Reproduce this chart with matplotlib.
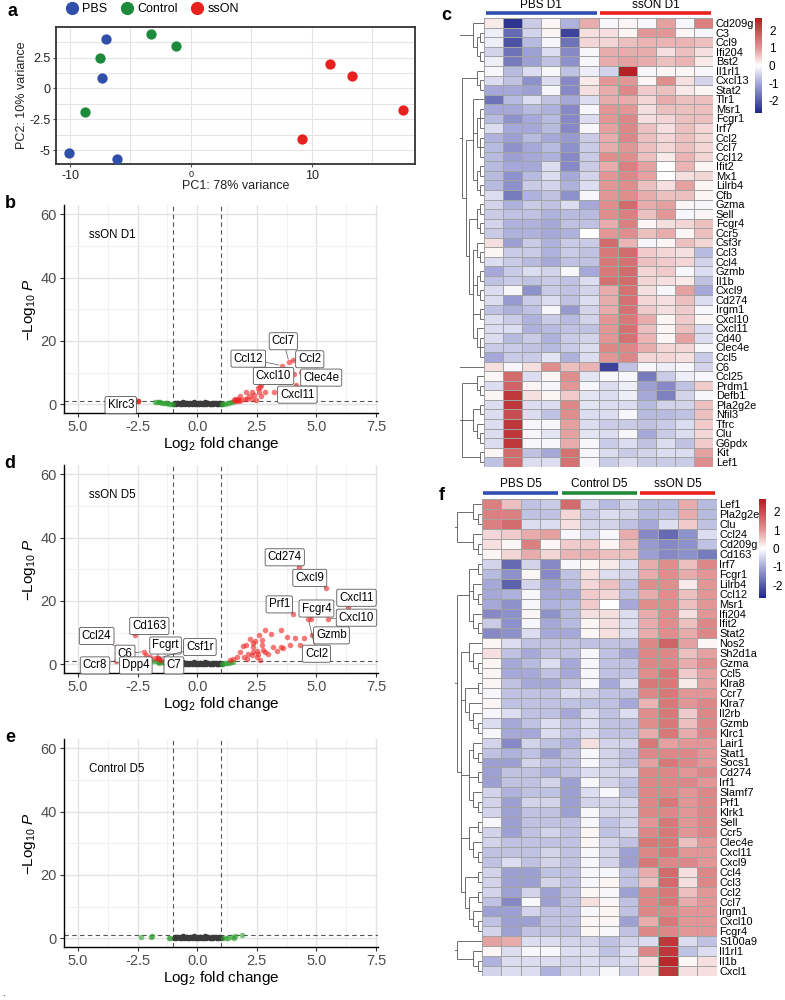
import numpy as np
import matplotlib
matplotlib.use('Agg')
import matplotlib.pyplot as plt
from matplotlib.colors import LinearSegmentedColormap
from matplotlib.lines import Line2D
import matplotlib.transforms as mtransforms

plt.rcParams['font.family'] = ['Liberation Sans', 'DejaVu Sans']
plt.rcParams['mathtext.fontset'] = 'custom'
plt.rcParams['mathtext.rm'] = 'Liberation Sans'
plt.rcParams['mathtext.it'] = 'Liberation Sans:italic'

# ---------------- DATA ----------------
# PCA (panel a)
pbs_pc1 = [-7.06, -7.34, -10.07, -6.15]
pbs_pc2 = [4.0, 0.84, -5.22, -5.73]
ctrl_pc1 = [-3.26, -1.24, -7.56, -8.77]
ctrl_pc2 = [4.43, 3.46, 2.51, -1.92]
sson_pc1 = [11.53, 13.3, 17.57, 9.16]
sson_pc2 = [1.95, 1.05, -1.73, -4.14]

# non-significant band (shared look in b, d, e)
ns_x = [-0.98, -0.93, -0.88, -0.84, -0.79, -0.73, -0.69, -0.64, -0.58, -0.53, -0.49, -0.44, -0.38, -0.33,
        -0.29, -0.24, -0.18, -0.13, -0.08, -0.03, 0.02, 0.07, 0.12, 0.17, 0.22, 0.27, 0.31, 0.36, 0.42,
        0.47, 0.52, 0.57, 0.61, 0.66, 0.72, 0.77, 0.81, 0.86, 0.91, 0.96, 0.99]
ns_y = [0.2, 0.4, 0.1, 0.5, 0.3, 0.0, 0.4, 0.2, 0.6, 0.1, 0.3, 0.5, 0.0, 0.2, 0.4, 0.1, 0.3, 0.6, 0.0,
        0.2, 0.5, 0.1, 0.3, 0.4, 0.0, 0.2, 0.6, 0.1, 0.3, 0.5, 0.2, 0.0, 0.4, 0.1, 0.3, 0.5, 0.2, 0.0,
        0.4, 0.3, 0.1]

# panel b: ssON D1
b_fc_x = [-2.47, -1.77, -1.7, -1.62, -1.55, -1.48, -1.4, -1.33, -1.25, -1.18, -1.1, -1.03,
          1.03, 1.1, 1.18, 1.25, 1.32, 1.4, 1.48]
b_fc_y = [1.05, 0.8, 0.7, 0.6, 0.55, 0.45, 0.4, 0.3, 0.25, 0.15, 0.1, 0.05,
          0.05, 0.1, 0.2, 0.3, 0.4, 0.6, 0.8]
b_sig_x = [-2.47, 2.56, 2.67, 2.62, 2.03, 2.3, 2.39, 2.58, 2.84, 2.67, 3.21, 2.16, 2.3, 2.07, 1.79,
           1.69, 1.58, 1.55, 1.65, 1.75, 1.85, 2.0, 2.45, 1.62]
b_sig_y = [1.05, 5.2, 6.0, 5.5, 3.9, 3.9, 3.05, 3.9, 3.9, 2.5, 3.9, 2.5, 1.7, 1.7, 2.5,
           1.7, 1.5, 1.2, 1.3, 1.1, 1.3, 1.5, 1.2, 1.0]
b_lab = ['Ccl7', 'Ccl2', 'Ccl12', 'Cxcl10', 'Clec4e', 'Cxcl11', 'Klrc3']
b_lab_x = [3.85, 4.03, 3.54, 4.07, 4.35, 4.14, -2.47]
b_lab_y = [13.4, 13.9, 12.2, 9.5, 10.1, 6.2, 1.05]

# panel d: ssON D5
d_fc_x = [-1.85, -1.75, -1.65, -1.6, -1.55, -1.45, -1.4, -1.35, -1.25, -1.15, -1.05,
          1.03, 1.1, 1.18, 1.25, 1.32, 1.4, 1.48]
d_fc_y = [1.0, 0.9, 0.8, 0.5, 0.7, 0.55, 0.3, 0.45, 0.3, 0.2, 0.1,
          0.05, 0.15, 0.25, 0.35, 0.5, 0.65, 0.8]
d_sig_x = [2.86, 2.6, 3.11, 3.53, 3.77, 3.5, 3.6, 3.18, 3.35, 3.88, 2.23, 2.32, 2.7, 2.7, 1.93, 2.04,
           1.79, 2.35, 2.49, 2.84, 2.97, 2.35, 2.14, 1.97, 1.68, 1.51, 1.37, 2.49, 2.63, 2.07, 2.28,
           2.56, 2.77, 2.42, 4.1, 4.3, 4.47, -2.15, -1.65, -1.5]
d_sig_y = [10.7, 9.3, 9.6, 10.7, 8.6, 5.4, 5.2, 5.4, 4.1, 6.1, 7.8, 6.7, 7.5, 5.9, 5.6, 5.9,
           4.0, 5.4, 4.3, 3.8, 3.1, 3.8, 3.1, 2.2, 2.2, 1.7, 1.4, 2.2, 1.4, 1.7, 2.8,
           3.1, 4.6, 7.2, 8.3, 6.1, 8.3, 2.75, 1.9, 1.3]
d_lab = ['Cd274', 'Cxcl9', 'Cxcl11', 'Cxcl10', 'Prf1', 'Fcgr4', 'Gzmb', 'Ccl2',
         'Cd163', 'Ccl24', 'C6', 'Fcgrt', 'Csf1r', 'Ccr8', 'Dpp4', 'C7']
d_lab_x = [4.26, 5.39, 6.33, 5.49, 4.02, 4.77, 4.80, 4.66,
           -2.61, -3.38, -2.23, -1.77, -1.65, -3.4, -1.98, -1.6]
d_lab_y = [30.8, 24.2, 18.0, 14.4, 16.0, 14.4, 9.3, 14.4,
           9.1, 5.4, 4.0, 1.8, 1.9, 1.1, 2.2, 1.5]

# panel e: Control D5
e_fc_x = [-2.36, -1.92, -1.88, -1.19, -1.15, 1.09, 1.2, 1.3, 1.44, 1.55, 1.6, 1.89]
e_fc_y = [0.4, 0.4, 0.6, 0.1, 0.0, 0.0, 0.1, 0.2, 0.4, 0.2, 0.6, 0.9]

# heatmap c (PBS D1 x6, ssON D1 x6)
c_genes = ['Cd209g', 'C3', 'Ccl9', 'Ifi204', 'Bst2', 'Il1rl1', 'Cxcl13', 'Stat2', 'Tlr1', 'Msr1', 'Fcgr1',
           'Irf7', 'Ccl2', 'Ccl7', 'Ccl12', 'Ifit2', 'Mx1', 'Lilrb4', 'Cfb', 'Gzma', 'Sell', 'Fcgr4', 'Ccr5',
           'Csf3r', 'Ccl3', 'Ccl4', 'Gzmb', 'Il1b', 'Cxcl9', 'Cd274', 'Irgm1', 'Cxcl10', 'Cxcl11', 'Cd40',
           'Clec4e', 'Ccl5', 'C6', 'Ccl25', 'Prdm1', 'Defb1', 'Pla2g2e', 'Nfil3', 'Tfrc', 'Clu', 'G6pdx',
           'Kit', 'Lef1']
c_values = [
    [0.2, -2.5, -0.6, 0.1, -0.9, 0.8, -0.1, 0.1, -0.1, 0.9, -0.1, 1.3],
    [-0.2, -1.8, -0.5, 0.1, -2.3, 0.3, 0.3, 0.1, 1.0, 1.0, 0.1, -0.1],
    [-0.2, -2.1, -0.8, -0.1, -1.7, 0.4, 0.4, 0.6, 0.7, 0.7, 0.7, 0.6],
    [-0.5, -1.7, -1.1, -0.4, -1.4, -0.1, 0.8, 0.8, 0.8, 0.3, 0.6, 0.3],
    [-0.2, -1.6, -1.1, -0.7, -1.3, -0.1, 0.8, 0.9, 0.8, 0.6, 0.7, 0.2],
    [-0.1, -0.8, -0.4, -0.1, -0.7, -0.2, -0.5, 2.6, -0.1, 0.1, 0.1, -0.1],
    [-0.4, -0.7, -1.3, -0.4, -1.4, 0.2, 1.0, 1.0, 0.1, 1.1, 0.3, -0.5],
    [-1.0, -1.0, -1.1, -0.1, -1.4, 0.3, 0.8, 1.2, 0.5, 0.6, 0.2, 0.1],
    [-1.7, -0.8, -0.4, -0.7, -1.0, -0.4, 0.8, 0.8, 0.4, 0.8, 0.6, 0.6],
    [-1.0, -1.0, -0.8, -0.9, -1.4, -0.1, 1.0, 1.0, 0.3, 0.6, 0.6, 0.6],
    [-0.8, -1.3, -1.0, -0.8, -1.4, -0.4, 1.0, 1.2, 0.3, 0.4, 0.6, 0.6],
    [-0.4, -1.0, -1.0, -0.8, -1.4, -0.1, 0.9, 1.2, 0.6, 0.3, 0.6, 0.4],
    [-0.9, -1.1, -0.8, -1.0, -1.2, -0.6, 0.8, 1.2, 0.6, 0.4, 0.6, 0.4],
    [-0.8, -1.3, -1.0, -0.8, -1.3, -0.6, 0.8, 1.0, 0.6, 0.4, 0.6, 0.4],
    [-0.8, -1.1, -1.0, -0.9, -1.4, -0.6, 1.1, 1.1, 0.6, 0.2, 0.7, 0.4],
    [-0.8, -1.0, -1.0, -0.4, -1.4, -0.6, 0.8, 1.3, 0.9, 0.0, 0.7, 0.1],
    [-0.8, -1.3, -0.8, -0.4, -1.0, -0.5, 1.0, 1.2, 0.9, 0.0, 0.3, 0.4],
    [-0.8, -1.3, -0.6, -0.5, -0.9, -0.4, 1.0, 1.1, 0.6, 0.3, 0.9, 0.1],
    [-0.4, -1.6, -0.9, -0.7, -1.3, -0.1, 1.0, 1.1, 0.8, 0.6, 0.6, 0.1],
    [-0.5, -0.9, -0.6, -0.7, -0.4, -1.0, 1.1, 1.6, 0.8, 0.9, 0.1, -0.1],
    [-0.6, -0.7, -0.7, -0.9, -0.8, -0.8, 1.1, 1.3, 0.6, 1.0, -0.1, 0.1],
    [-0.5, -0.9, -0.9, -1.0, -0.7, -0.7, 0.8, 1.3, 0.1, 0.3, 0.4, 0.6],
    [-0.6, -0.9, -0.9, -1.0, -0.9, 0.0, 1.0, 1.1, 0.6, 0.8, 0.1, 0.6],
    [0.3, -1.1, -0.6, -0.9, -0.6, -0.6, 1.6, 0.7, -0.1, 0.1, 0.6, 0.4],
    [0.1, -0.6, -0.6, -0.9, -0.6, -0.7, 1.4, 1.6, 0.5, 0.4, 0.3, -0.8],
    [-0.4, -0.6, -0.8, -1.0, -0.7, -0.7, 1.4, 1.5, 0.6, 0.5, 0.4, -0.5],
    [-1.0, -0.6, -0.4, -0.5, -0.1, -1.0, 1.4, 1.6, 0.4, 0.5, -0.1, -0.4],
    [-0.7, -0.6, -0.7, -0.6, -0.7, -0.4, 1.5, 1.6, 0.4, 0.3, 0.2, -0.7],
    [-0.4, -0.1, -1.3, -0.6, -0.7, -0.5, 0.8, 1.5, 0.3, -0.1, 0.9, -1.0],
    [-0.4, -1.2, -0.6, -0.4, -0.7, -0.4, 0.8, 1.5, 0.4, 0.3, 0.6, -0.4],
    [-0.7, -0.9, -0.7, -0.1, -1.2, -0.5, 0.8, 1.5, 0.5, 0.3, 0.5, -0.1],
    [-0.4, -0.6, -0.9, -0.6, -0.8, -0.5, 1.0, 1.4, 0.8, 0.1, 0.5, 0.1],
    [-0.4, -0.4, -0.9, -0.8, -0.7, -0.7, 1.0, 1.5, 0.6, 0.1, 0.6, -0.4],
    [-0.4, -0.8, -0.6, -0.9, -0.6, -0.5, 1.0, 1.5, 0.7, 0.1, 0.9, -0.4],
    [-0.6, -0.6, -0.7, -0.8, -0.6, -0.4, 1.2, 1.2, 0.8, 0.4, 0.4, -0.1],
    [-1.0, -0.6, -0.6, -0.3, -0.9, -0.4, 1.0, 1.2, 0.4, 0.4, 0.3, -0.6],
    [0.3, -0.1, 0.3, 1.1, 0.6, 0.7, -2.3, -0.7, -0.1, -0.2, -0.1, -0.5],
    [0.1, 1.6, -0.4, 0.1, 1.1, -0.3, -0.1, -0.1, -1.6, -0.6, -0.2, -0.1],
    [-0.4, 1.7, 0.1, -0.1, 1.0, -0.1, -0.4, -0.2, -1.1, -1.4, -0.7, 0.5],
    [0.1, 2.3, 0.3, 0.1, 0.5, -0.3, -0.4, -0.2, -1.0, -1.5, -0.5, -0.1],
    [-0.4, 2.3, -0.4, -0.4, 1.2, -0.3, -0.4, -0.4, -0.8, -0.5, -0.5, 0.6],
    [-0.4, 2.0, -0.4, -0.7, 1.1, -0.4, -0.4, -0.1, -0.8, -0.8, -0.7, 0.6],
    [-0.4, 2.3, -0.1, -0.1, 0.9, -0.4, -0.6, -0.6, -0.7, -0.6, -0.4, 0.5],
    [-0.4, 2.3, -0.1, -0.3, 0.9, -0.3, -0.4, -0.1, -1.0, -0.6, -0.4, 0.4],
    [-0.4, 2.3, -0.1, -0.1, 0.8, -0.1, -0.6, -0.4, -0.7, -0.4, -0.7, 0.5],
    [0.1, 1.6, -0.7, -1.0, 1.5, -0.1, -0.4, -0.6, -0.5, -0.4, -0.4, 0.9],
    [-0.7, 1.6, -0.4, -0.4, 1.5, -0.1, -0.6, -0.4, -0.6, -0.6, -0.6, 1.1],
]
c_groups = ['PBS D1', 'ssON D1']
c_group_n = [6, 6]

# heatmap f (PBS D5 x4, Control D5 x4, ssON D5 x4)
f_genes = ['Lef1', 'Pla2g2e', 'Clu', 'Ccl24', 'Cd209g', 'Cd163', 'Irf7', 'Fcgr1', 'Lilrb4', 'Ccl12', 'Msr1',
           'Ifi204', 'Ifit2', 'Stat2', 'Nos2', 'Sh2d1a', 'Gzma', 'Ccl5', 'Klra8', 'Ccr7', 'Klra7', 'Il2rb',
           'Gzmb', 'Klrc1', 'Lair1', 'Stat1', 'Socs1', 'Cd274', 'Irf1', 'Slamf7', 'Prf1', 'Klrk1', 'Sell',
           'Ccr5', 'Clec4e', 'Cxcl11', 'Cxcl9', 'Ccl4', 'Ccl3', 'Ccl2', 'Ccl7', 'Irgm1', 'Cxcl10', 'Fcgr4',
           'S100a9', 'Il1rl1', 'Il1b', 'Cxcl1']
f_values = [
    [1.3, 0.6, -0.7, -0.6, 1.6, -0.5, -0.8, -0.5, -0.8, -0.8, 0.8, -0.8],
    [1.3, 1.3, -0.7, -0.7, 0.4, -0.6, -0.4, -0.5, -0.8, -0.7, 0.8, -0.8],
    [1.3, 1.6, -0.4, -0.4, 0.3, -0.5, -0.5, -0.7, -1.0, -0.4, 0.5, -0.7],
    [0.4, 0.5, 0.8, 0.9, -0.1, -0.4, -0.1, 0.8, -1.4, -1.8, -1.3, -0.4],
    [0.3, 0.1, 1.3, 0.1, 0.5, 0.5, 0.1, 0.6, -1.2, -1.4, -1.3, -0.7],
    [0.1, 0.4, 0.8, 0.4, 0.7, 0.7, 0.6, 0.6, -1.1, -1.4, -1.3, -1.6],
    [-0.5, -1.8, -0.5, -1.4, -0.1, 0.1, 0.2, -0.4, 0.8, 1.1, 0.6, 1.2],
    [-0.8, -1.3, 0.1, -1.4, -0.7, 0.3, -0.4, -0.5, 0.8, 1.1, 0.8, 1.0],
    [-1.0, -1.9, -0.5, -1.1, -0.8, 0.4, 0.6, -0.7, 1.1, 1.1, 0.2, 1.0],
    [-1.0, -0.9, -0.1, -1.0, -1.0, 0.5, 0.4, -0.7, 0.8, 1.1, 0.6, 1.0],
    [-1.0, -1.3, -0.1, -0.9, -0.8, 0.5, 0.0, -1.0, 1.1, 1.1, 0.6, 1.0],
    [-1.4, -1.3, 0.1, -1.3, -0.8, 0.3, 0.3, -0.4, 0.8, 1.1, 0.3, 1.0],
    [-0.6, -1.3, -0.1, -1.0, -0.8, 0.1, 0.3, -0.4, 0.8, 1.1, 0.6, 1.2],
    [-1.4, -1.3, -0.4, -1.0, -1.0, 0.1, 0.3, -0.4, 0.8, 1.1, 0.8, 1.2],
    [0.1, -0.4, -0.7, -0.7, -0.7, -0.7, -0.7, -0.7, 1.2, 1.7, 0.9, 0.1],
    [0.3, -0.7, -1.0, -0.7, -0.7, -0.1, -0.7, -1.0, 1.2, 1.2, 0.6, 0.9],
    [0.1, -1.0, -0.8, -0.4, -1.0, -0.1, -0.7, -0.7, 1.2, 1.2, 0.8, 1.1],
    [0.1, -1.0, -1.0, -0.7, -1.0, -0.1, -0.7, -0.7, 1.1, 1.4, 0.5, 0.9],
    [0.1, -0.7, -1.0, -1.0, -0.7, -0.1, -1.0, -0.4, 1.4, 1.4, 0.2, 0.9],
    [-0.1, -0.7, -0.7, -0.7, -0.4, -0.5, -0.7, -0.7, 1.2, 1.4, 1.0, 1.0],
    [0.1, -0.7, -0.7, -0.7, -0.7, -0.7, -0.7, -1.0, 0.7, 1.4, 1.0, 1.2],
    [-0.1, -0.4, -0.7, -0.7, -1.0, -0.4, -0.7, -0.4, 1.1, 1.4, 0.5, 1.2],
    [-0.4, -1.0, -0.7, -0.4, -0.7, -0.4, -0.7, -0.7, 1.1, 1.4, 0.6, 1.2],
    [-0.1, -1.0, -1.0, -0.4, -0.7, -0.4, -0.7, -0.7, 0.8, 1.4, 0.8, 1.2],
    [-0.5, -1.4, -0.5, -0.7, -0.9, 0.3, -0.5, -0.5, 1.4, 0.9, 1.0, 1.0],
    [-0.7, -0.9, -0.7, -1.1, -0.7, -0.1, -0.5, -0.7, 1.2, 1.2, 1.2, 1.0],
    [-1.1, -1.1, -0.5, -0.7, -0.7, -0.1, -0.5, -0.7, 0.9, 1.4, 1.2, 1.0],
    [-1.1, -0.7, -0.7, -0.9, -0.7, -0.4, -0.5, -0.5, 1.2, 1.2, 1.0, 1.2],
    [-1.1, -0.7, -0.7, -0.5, -1.1, -0.1, -0.5, -0.7, 1.2, 1.2, 1.2, 1.0],
    [-0.5, -0.9, -0.7, -0.7, -1.1, -0.4, -0.1, -0.7, 1.2, 1.2, 1.0, 1.2],
    [-0.5, -1.1, -0.5, -0.5, -1.1, -0.5, -0.5, -0.5, 1.2, 1.4, 1.0, 1.2],
    [-0.5, -1.1, -0.7, -0.7, -1.1, -0.1, -0.5, -0.5, 1.2, 1.2, 1.0, 1.2],
    [-0.1, -1.1, -0.7, -0.7, -0.7, -0.1, -0.7, -0.5, 1.0, 1.4, 1.0, 1.2],
    [-0.5, -1.1, -0.7, -0.5, -0.7, 0.1, -0.7, -0.5, 1.2, 1.4, 1.0, 1.2],
    [-0.5, -0.7, -0.7, -0.7, -0.7, 0.1, -0.5, -0.7, 1.4, 1.4, 0.6, 1.0],
    [-0.7, -0.7, -0.7, -0.5, -0.7, -0.1, -0.5, -1.1, 1.2, 1.4, 1.0, 1.0],
    [-0.7, -0.4, -0.7, -0.5, -0.7, -0.1, -0.5, -1.1, 1.4, 1.2, 1.2, 1.0],
    [-0.5, -1.1, -1.1, -0.7, -0.7, -0.1, -0.1, -0.7, 0.8, 1.6, 0.3, 1.2],
    [-0.5, -1.1, -1.1, -0.5, -0.7, -0.1, 0.1, -0.7, 0.6, 1.6, 0.3, 1.2],
    [-0.5, -1.1, -0.5, -1.1, -0.7, 0.1, -0.1, -1.1, 1.2, 1.4, 0.6, 1.0],
    [-0.7, -1.4, -0.1, -1.1, -0.7, 0.3, 0.1, -0.7, 1.2, 1.4, 0.8, 1.0],
    [-1.1, -1.1, -0.5, -0.7, -0.7, -0.1, 0.1, -0.7, 1.2, 1.2, 1.0, 1.0],
    [-0.7, -1.1, -1.1, -0.7, -0.7, 0.1, 0.1, -1.1, 0.8, 1.4, 1.0, 1.0],
    [-0.5, -1.1, -0.7, -0.7, -0.7, 0.1, -0.1, -0.7, 1.2, 1.2, 1.0, 1.0],
    [0.9, 0.8, -0.4, -0.4, -0.5, -0.5, -0.7, -0.5, -0.4, 2.3, -0.4, -0.7],
    [0.1, -0.4, -0.1, -0.1, -0.4, -0.4, -0.7, -0.4, 1.2, 2.3, -0.7, -0.4],
    [-0.9, -0.4, -0.4, -0.4, -0.5, -0.4, -0.5, -0.4, 0.3, 2.5, 0.1, 0.3],
    [-0.5, -0.4, -0.4, -0.9, -0.5, -0.4, -0.1, -0.5, 0.3, 2.3, 0.3, 0.3],
]
f_groups = ['PBS D5', 'Control D5', 'ssON D5']
f_group_n = [4, 4, 4]

# row dendrogram structures (row indices)
c_tree = [[[0, [[1, 2], [3, 4]]],
           [[5, [6, 7]],
            [[8, [[9, 10, 11], [12, 13, 14]], [[15, 16], [17, 18]]],
             [[[19, 20], [21, 22]],
              [[23, [24, 25]], [[26, 27], [28, 29]], [30, 31], [32, [33, 34, 35]]]]]]],
          36,
          [[37, [38, 39]], [[40, 41], [42, [43, 44]]], [45, 46]]]
f_tree = [[[0, [1, 2]], [3, [4, 5]]],
          [[[6, 7], [8, [9, 10]], [11, [12, 13]]],
           [[14, [15, [16, 17]]], [[18, 19], [20, [21, [22, 23]]]],
            [[24, [25, 26]], [27, 28], [29, [30, 31]]], [[32, 33], [34, [35, 36]]],
            [[37, 38], [[39, 40], [41, [42, 43]]]]]],
          [44, [45, [46, 47]]]]

# ---------------- LAYOUT / STYLE ----------------
W, H = 785, 1000
fig = plt.figure(figsize=(W / 100, H / 100), dpi=100)


def rect(l, t, r, b):
    return [l / W, 1 - b / H, (r - l) / W, (b - t) / H]


def ftext(x, y, s, **kw):
    fig.text(x / W, 1 - y / H, s, **kw)


BLUE, GREEN, RED = '#2f4fa8', '#1e8a3c', '#e8211f'
TICKC = '#4d4d4d'

# ----- panel a -----
ax = fig.add_axes(rect(56, 27, 415, 164))
ax.scatter(pbs_pc1, pbs_pc2, s=55, color=BLUE, zorder=3, linewidths=0)
ax.scatter(ctrl_pc1, ctrl_pc2, s=55, color=GREEN, zorder=3, linewidths=0)
ax.scatter(sson_pc1, sson_pc2, s=55, color=RED, zorder=3, linewidths=0)
ax.set_xlim(-11.16, 18.55)
ax.set_ylim(-6.13, 4.99)
ax.set_xticks([-10, 0, 10])
ax.set_xticks([-5, 5, 15], minor=True)
ax.set_yticks([-5, -2.5, 0, 2.5])
ax.set_yticks([-3.75, -1.25, 1.25, 3.75], minor=True)
ax.set_yticklabels(['-5', '-2.5', '0', '2.5'])
ax.set_xticklabels(['-10', '0', '10'])
for lab in ax.get_xticklabels():
    lab.set_fontsize(9 if lab.get_text() != '0' else 6.5)
ax.tick_params(axis='both', which='both', length=2, color='#555555', labelcolor='#222222', pad=2)
ax.tick_params(axis='y', labelsize=9)
ax.tick_params(which='minor', length=0)
ax.grid(which='both', color='#e4e4e4', lw=0.8)
ax.set_axisbelow(True)
for s in ax.spines.values():
    s.set_color('#333333')
    s.set_linewidth(1.3)
ax.set_xlabel('PC1: 78% variance', fontsize=9, labelpad=-1, color='#222222')
ax.set_ylabel('PC2: 10% variance', fontsize=9, labelpad=1, color='#222222')
handles = [Line2D([], [], marker='o', ls='', color=c, markersize=8.5) for c in (BLUE, GREEN, RED)]
fig.legend(handles, ['PBS', 'Control', 'ssON'], loc='center', bbox_to_anchor=(151 / W, 1 - 9 / H),
           ncol=3, frameon=False, fontsize=9, handletextpad=0.1, columnspacing=0.9,
           handlelength=1.4)

# ----- volcano panels -----
XLIM = (-5.59, 7.57)
YLIM = (-2.8, 63.0)
BOX = dict(boxstyle='round,pad=0.22,rounding_size=0.15', fc='white', ec='#555555', lw=0.6)

b_boxes = {'Ccl7': (3.61, 19.9), 'Ccl2': (4.72, 14.2), 'Ccl12': (2.14, 14.4), 'Cxcl10': (3.2, 8.9),
           'Clec4e': (5.2, 8.4), 'Cxcl11': (4.2, 3.0), 'Klrc3': (-3.21, -0.3)}
d_boxes = {'Cd274': (3.67, 33.8), 'Cxcl9': (4.72, 27.3), 'Cxcl11': (6.68, 21.0), 'Cxcl10': (6.68, 14.7),
           'Prf1': (3.44, 18.9), 'Fcgr4': (5.0, 17.6), 'Gzmb': (5.63, 9.1), 'Ccl2': (5.0, 3.3),
           'Cd163': (-2.01, 12.1), 'Ccl24': (-4.22, 8.9), 'C6': (-3.03, 3.3), 'Fcgrt': (-1.33, 5.9),
           'Csf1r': (0.11, 5.4), 'Ccr8': (-4.29, -0.4), 'Dpp4': (-2.58, -0.4), 'C7': (-0.98, -0.4)}


def volcano(top, fc_x, fc_y, sig_x, sig_y, labs, lab_x, lab_y, boxes, tag, letter):
    ax = fig.add_axes(rect(64, top, 377.7, top + 208))
    ax.set_xlim(*XLIM)
    ax.set_ylim(*YLIM)
    ax.set_xticks([-5, -2.5, 0, 2.5, 5, 7.5])
    ax.set_xticklabels(['5.0', '-2.5', '0.0', '2.5', '5.0', '7.5'])
    ax.set_xticks([-3.75, -1.25, 1.25, 3.75, 6.25], minor=True)
    ax.set_yticks([0, 20, 40, 60])
    ax.set_yticks([10, 30, 50], minor=True)
    ax.grid(which='major', color='#e3e3e3', lw=1.0)
    ax.grid(which='minor', color='#efefef', lw=0.6)
    ax.set_axisbelow(True)
    ax.spines['top'].set_visible(False)
    ax.spines['right'].set_visible(False)
    for s in ('left', 'bottom'):
        ax.spines[s].set_linewidth(1.0)
        ax.spines[s].set_color('black')
    ax.tick_params(axis='both', which='major', labelsize=10.5, labelcolor=TICKC, length=3,
                   color='#333333', pad=2)
    ax.tick_params(which='minor', length=0)
    dash = dict(color='#555555', lw=0.8, ls=(0, (4, 3)), zorder=1.5)
    ax.axvline(-1, **dash)
    ax.axvline(1, **dash)
    ax.axhline(1.0, **dash)
    ax.scatter(ns_x, ns_y, s=16, color='#3a3a3a', linewidths=0, zorder=2)
    ax.scatter(fc_x, fc_y, s=16, color='#2ca02c', alpha=0.6, linewidths=0, zorder=2)
    if sig_x:
        ax.scatter(sig_x, sig_y, s=16, color='#ee2222', alpha=0.6, linewidths=0, zorder=3)
    for name, px, py in zip(labs, lab_x, lab_y):
        ax.scatter([px], [py], s=16, color='#ee2222', alpha=0.6, linewidths=0, zorder=3)
        ax.annotate(name, xy=(px, py), xytext=boxes[name], fontsize=8.3, ha='center', va='center',
                    bbox=BOX, zorder=5,
                    arrowprops=dict(arrowstyle='-', color='#555555', lw=0.5, shrinkA=0, shrinkB=2))
    ax.text(-4.55, 53.5, tag, fontsize=8.3, va='center', ha='left')
    ax.set_xlabel(r'$\mathrm{Log}_{2}$ fold change', fontsize=11, labelpad=1)
    ax.set_ylabel(r'$-\mathrm{Log}_{10}\ \mathit{P}$', fontsize=11, labelpad=2)
    ftext(10, top - 2, letter, fontsize=13, fontweight='bold', ha='center', va='center')
    return ax


volcano(205, b_fc_x, b_fc_y, b_sig_x, b_sig_y, b_lab, b_lab_x, b_lab_y, b_boxes, 'ssON D1', 'b')
volcano(465, d_fc_x, d_fc_y, d_sig_x, d_sig_y, d_lab, d_lab_x, d_lab_y, d_boxes, 'ssON D5', 'd')
volcano(739, e_fc_x, e_fc_y, [], [], [], [], [], {}, 'Control D5', 'e')

ftext(12, 11, 'a', fontsize=13, fontweight='bold', ha='center', va='center')

# ----- heatmaps -----
VMIN, VMAX = -2.7, 2.7
cmap = LinearSegmentedColormap.from_list(
    'nwf', [(0.0, '#1f2688'), (0.315, '#a6a9d8'), (0.5, '#ffffff'), (0.685, '#e29696'), (1.0, '#b31b1f')])
group_colors = {'PBS': '#2d4fb0', 'Control': '#1f8a3c', 'ssON': '#e8211f'}


def draw_tree(ax, node, level, cut):
    if isinstance(node, int):
        return node + 0.5, 0.0
    res = [draw_tree(ax, c, level + 1, cut) for c in node]
    h = max(r[1] for r in res) + 1
    if level == 1:
        h = max(h, cut - 0.55)
    if level == 0:
        h = cut + 3
    ys = [r[0] for r in res]
    for y, hc in res:
        ax.plot([hc, h], [y, y], color='#555555', lw=0.6, solid_capstyle='butt')
    ax.plot([h, h], [min(ys), max(ys)], color='#555555', lw=0.6, solid_capstyle='butt')
    return (min(ys) + max(ys)) / 2, h


def heatmap(l, t, r, b, dl, cb, values, genes, groups, group_n, tree, cut, bar_y, lab_y, letter_xy):
    data = np.array(values)
    n, m = data.shape
    ax = fig.add_axes(rect(l, t, r, b))
    mesh = ax.pcolormesh(data, cmap=cmap, vmin=VMIN, vmax=VMAX, edgecolors='#a3a3a3', linewidth=0.5)
    ax.set_xlim(0, m)
    ax.set_ylim(n, 0)
    ax.yaxis.tick_right()
    ax.set_yticks(np.arange(n) + 0.5)
    ax.set_yticklabels(genes, fontsize=7.9)
    ax.set_xticks([])
    ax.tick_params(axis='y', length=0, pad=2)
    for s in ax.spines.values():
        s.set_visible(False)
    # group bars
    trans = mtransforms.blended_transform_factory(ax.transData, fig.transFigure)
    start = 0
    for g, k in zip(groups, group_n):
        col = group_colors[g.split()[0]]
        ax.plot([start + 0.08, start + k - 0.08], [1 - bar_y / H] * 2, transform=trans, color=col,
                lw=2.6, clip_on=False, solid_capstyle='butt')
        ax.text(start + k / 2, 1 - lab_y / H, g, transform=trans, ha='center', va='center',
                fontsize=8.5)
        start += k
    # dendrogram
    dax = fig.add_axes(rect(dl, t, l, b))
    draw_tree(dax, tree, 0, cut)
    dax.set_xlim(cut, 0)
    dax.set_ylim(n, 0)
    dax.axis('off')
    # colorbar
    cax = fig.add_axes(rect(*cb))
    cbar = fig.colorbar(mesh, cax=cax, ticks=[-2, -1, 0, 1, 2])
    cbar.outline.set_visible(False)
    cbar.ax.set_yticklabels(['-2', '-1', '0', '1', '2'])
    cbar.ax.tick_params(length=0, labelsize=8.5, pad=5)
    ftext(letter_xy[0], letter_xy[1], letter_xy[2], fontsize=13, fontweight='bold',
          ha='center', va='center')


heatmap(484, 18.3, 713, 466.7, 460, (755, 18, 762, 113), c_values, c_genes, c_groups, c_group_n,
        c_tree, 6.5, 12.7, 5.5, (446, 16, 'c'))
heatmap(481.7, 499.3, 716.7, 976, 455, (759, 499, 766, 598), f_values, f_genes, f_groups, f_group_n,
        f_tree, 6.5, 493.3, 484.5, (442, 496, 'f'))

ftext(3, 993, '.', fontsize=7, ha='center', va='center')

fig.savefig('out.png', dpi=100)
